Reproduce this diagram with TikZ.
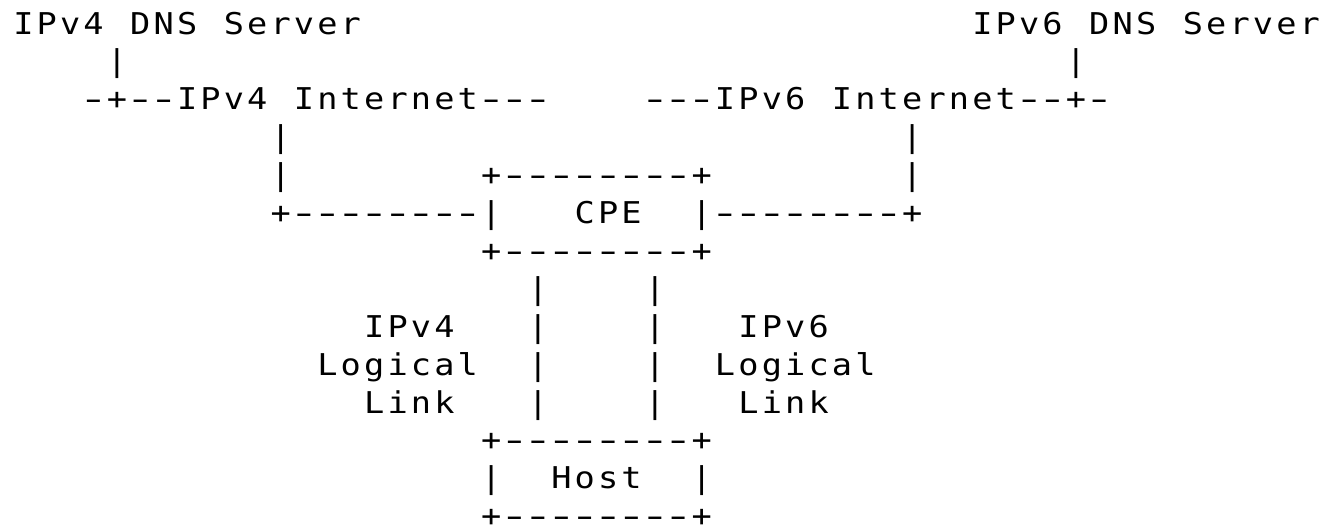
\documentclass[tikz,border=0pt]{standalone}
\usepackage{fontspec}
\usepackage{graphicx}
\newfontfamily\asciifont{DejaVu Sans Mono}
\newlength\cw
\setlength\cw{23.39pt}
\makeatletter
\def\asc@hy{-}
\newcommand\mono[1]{\@tfor\mch:=#1\do{%
  \ifx\mch\asc@hy
    \makebox[\cw][c]{\scalebox{1.7}[1]{-}}%
  \else
    \makebox[\cw][c]{\scalebox{1.12}[1]{\mch}}%
  \fi}}
\makeatother
\tikzset{
  art/.style={inner sep=0pt, outer sep=0pt, anchor=base west, text depth=0pt,
    font=\asciifont\fontsize{30}{36}\selectfont, text=black}
}
% column c, row r  ->  left edge of column c, baseline of row r
\newcommand\at[2]{(11.7pt+#1*23.39pt,-34pt-#2*37.9pt)}
\begin{document}
\begin{tikzpicture}
\useasboundingbox[fill=white] (0,0) rectangle (1324pt,-530pt);
% row 0
\node[art] (srv4) at \at{0}{0} {\mono{IPv4~DNS~Server}};
\node[art] (srv6) at \at{41}{0} {\mono{IPv6~DNS~Server}};
% row 1
\node[art] (s4a) at \at{4}{1} {\mono{|}};
\node[art] (s6a) at \at{45}{1} {\mono{|}};
% row 2
\node[art] (inet4) at \at{3}{2} {\mono{-+--IPv4~Internet---}};
\node[art] (inet6) at \at{27}{2} {\mono{---IPv6~Internet--+-}};
% row 3
\node[art] (l4a) at \at{11}{3} {\mono{|}};
\node[art] (l6a) at \at{38}{3} {\mono{|}};
% row 4
\node[art] (l4b) at \at{11}{4} {\mono{|}};
\node[art] (cpetop) at \at{20}{4} {\mono{+--------+}};
\node[art] (l6b) at \at{38}{4} {\mono{|}};
% row 5
\node[art] (cpe) at \at{11}{5} {\mono{+--------|~~~CPE~~|--------+}};
% row 6
\node[art] (cpebot) at \at{20}{6} {\mono{+--------+}};
% row 7
\node[art] (v4a) at \at{22}{7} {\mono{|}};
\node[art] (v6a) at \at{27}{7} {\mono{|}};
% row 8
\node[art] (lab4a) at \at{15}{8} {\mono{IPv4}};
\node[art] (v4b) at \at{22}{8} {\mono{|}};
\node[art] (v6b) at \at{27}{8} {\mono{|}};
\node[art] (lab6a) at \at{31}{8} {\mono{IPv6}};
% row 9
\node[art] (lab4b) at \at{13}{9} {\mono{Logical}};
\node[art] (v4c) at \at{22}{9} {\mono{|}};
\node[art] (v6c) at \at{27}{9} {\mono{|}};
\node[art] (lab6b) at \at{30}{9} {\mono{Logical}};
% row 10
\node[art] (lab4c) at \at{15}{10} {\mono{Link}};
\node[art] (v4d) at \at{22}{10} {\mono{|}};
\node[art] (v6d) at \at{27}{10} {\mono{|}};
\node[art] (lab6c) at \at{31}{10} {\mono{Link}};
% row 11-13
\node[art] (hosttop) at \at{20}{11} {\mono{+--------+}};
\node[art] (host) at \at{20}{12} {\mono{|~~Host~~|}};
\node[art] (hostbot) at \at{20}{13} {\mono{+--------+}};
\end{tikzpicture}
\end{document}
